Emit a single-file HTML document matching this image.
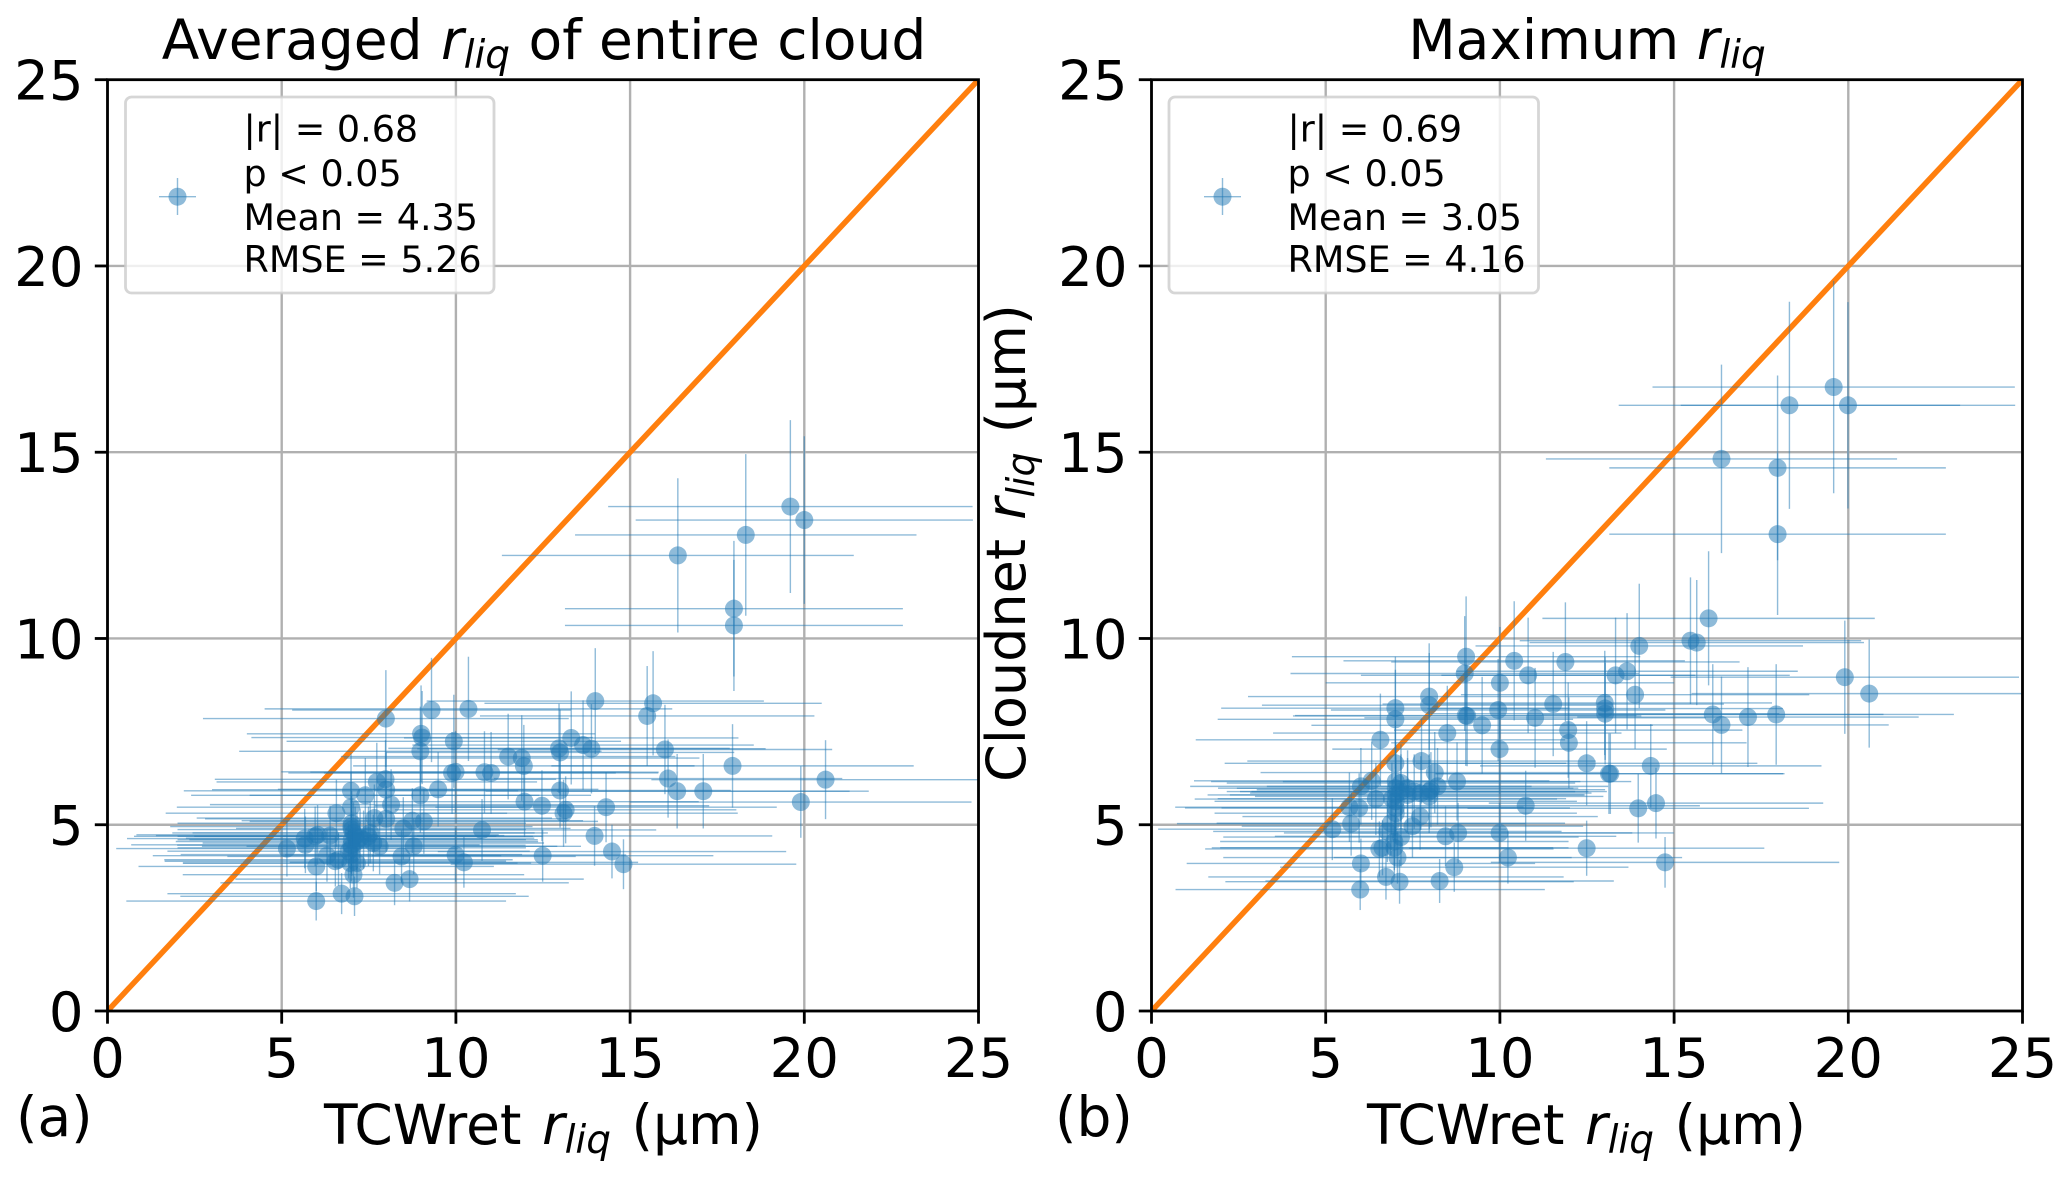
<!DOCTYPE html>
<html>
<head>
<meta charset="utf-8">
<title>TCWret vs Cloudnet r_liq</title>
<style>
html,body{margin:0;padding:0;background:#fff;}
svg{display:block;}
text{font-family:"DejaVu Sans",sans-serif;fill:#000;white-space:pre;}
.tick{font-size:54.5px;}
.big{font-size:55px;}
.leg{font-size:36.5px;}
.it{font-style:italic;}
</style>
</head>
<body>
<svg id="chart" xmlns="http://www.w3.org/2000/svg" width="2067" height="1179" viewBox="0 0 2067 1179">
  <rect x="0" y="0" width="2067" height="1179" fill="#fff"/>
  <defs>
    <clipPath id="clip-a"><rect x="107.5" y="79.7" width="871" height="931.3"/></clipPath>
    <clipPath id="clip-b"><rect x="1151.5" y="79.7" width="871" height="931.3"/></clipPath>
  </defs>
  <g id="panel-a"></g>
  <g id="panel-b"></g>

  <text class="big" x="544" y="59" text-anchor="middle">Averaged <tspan class="it" dx="1">r</tspan><tspan class="it" font-size="39" dy="9">liq</tspan><tspan dy="-9" dx="1"> of entire cloud</tspan></text>
  <text class="big" x="1587" y="59" text-anchor="middle">Maximum <tspan class="it">r</tspan><tspan class="it" font-size="39" dy="9">liq</tspan></text>
  <text class="big" x="543.5" y="1144" text-anchor="middle">TCWret <tspan class="it" dx="3">r</tspan><tspan class="it" font-size="39" dy="9">liq</tspan><tspan dy="-9" dx="3"> (µm)</tspan></text>
  <text class="big" x="1586.5" y="1144" text-anchor="middle">TCWret <tspan class="it" dx="3">r</tspan><tspan class="it" font-size="39" dy="9">liq</tspan><tspan dy="-9" dx="3"> (µm)</tspan></text>
  <text font-size="54" transform="translate(1025 543) rotate(-90)" text-anchor="middle">Cloudnet <tspan class="it" dx="2">r</tspan><tspan class="it" font-size="38" dy="9">liq</tspan><tspan dy="-9" dx="2"> (µm)</tspan></text>
  <text class="big" x="16" y="1136">(a)</text>
  <text class="big" x="1055" y="1136">(b)</text>

  <g>
    <rect x="125.5" y="97" width="368.5" height="196" rx="6" ry="6" fill="#fff" fill-opacity="0.8" stroke="#ccc" stroke-opacity="0.8" stroke-width="2.8"/>
    <line x1="159" x2="196" y1="196.7" y2="196.7" stroke="#1f77b4" stroke-opacity="0.5" stroke-width="1.4"/>
    <line x1="177.5" x2="177.5" y1="178" y2="215" stroke="#1f77b4" stroke-opacity="0.5" stroke-width="1.4"/>
    <circle cx="177.5" cy="196.7" r="9" fill="#1f77b4" fill-opacity="0.5"/>
    <text class="leg" x="243.5" y="141.5">|r| = 0.68</text>
    <text class="leg" x="243.5" y="186">p &lt; 0.05</text>
    <text class="leg" x="243.5" y="230">Mean = 4.35</text>
    <text class="leg" x="243.5" y="272">RMSE = 5.26</text>
  </g>
  <g>
    <rect x="1169" y="97" width="369.5" height="196" rx="6" ry="6" fill="#fff" fill-opacity="0.8" stroke="#ccc" stroke-opacity="0.8" stroke-width="2.8"/>
    <line x1="1204" x2="1241" y1="196.7" y2="196.7" stroke="#1f77b4" stroke-opacity="0.5" stroke-width="1.4"/>
    <line x1="1222.5" x2="1222.5" y1="178" y2="215" stroke="#1f77b4" stroke-opacity="0.5" stroke-width="1.4"/>
    <circle cx="1222.5" cy="196.7" r="9" fill="#1f77b4" fill-opacity="0.5"/>
    <text class="leg" x="1287.5" y="141.5">|r| = 0.69</text>
    <text class="leg" x="1287.5" y="186">p &lt; 0.05</text>
    <text class="leg" x="1287.5" y="230">Mean = 3.05</text>
    <text class="leg" x="1287.5" y="272">RMSE = 4.16</text>
  </g>
</svg>
<script>
var tickValues = [0, 5, 10, 15, 20, 25];
var tickLabels = ['0', '5', '10', '15', '20', '25'];
var refLine = [0, 25];

var aX = [7.99,9.30,10.36,9.0,9.03,9.94,8.98,11.5,11.89,11.95,
12.96,12.99,13.31,9.89,9.99,10.82,11.01,7.73,7.98,8.0,
6.99,7.4,8.98,9.49,8.14,12.99,11.97,12.47,13.15,13.09,
6.99,6.57,7.66,8.0,8.75,9.08,8.49,10.75,9.99,10.23,
8.79,8.44,7.81,12.49,5.15,5.68,5.66,5.96,6.03,6.39,
6.3,6.54,6.63,5.99,7.06,7.16,6.97,8.24,8.67,6.72,
7.09,5.99,7.01,7.06,7.11,7.01,7.16,7.25,7.01,6.92,
7.35,7.49,7.54,7.63,7.01,7.0,7.0,7.0,19.6,20.0,
18.32,16.37,17.98,17.98,14.0,15.66,15.49,13.65,13.89,16.0,
17.94,16.09,16.35,17.1,20.61,19.9,14.31,13.98,14.48,14.81];
var aY = [7.85,8.08,8.11,7.44,7.34,7.24,6.97,6.83,6.79,6.58,
7.05,6.94,7.33,6.39,6.42,6.41,6.39,6.15,6.22,5.94,
5.91,5.79,5.79,5.95,5.54,5.92,5.62,5.51,5.4,5.31,
5.47,5.31,5.18,5.16,5.11,5.09,4.9,4.86,4.19,3.99,
4.42,4.15,4.42,4.17,4.36,4.46,4.63,4.69,4.73,4.71,
4.17,4.02,4.06,3.88,3.66,3.97,3.97,3.44,3.54,3.15,
3.08,2.95,4.87,4.78,4.69,4.6,4.55,4.64,4.38,4.29,
4.6,4.69,4.78,4.51,5.04,4.95,4.45,4.2,13.54,13.18,
12.78,12.23,10.8,10.35,8.32,8.26,7.92,7.14,7.04,7.02,
6.58,6.24,5.9,5.9,6.21,5.61,5.47,4.7,4.28,3.94];
var aXErr = [5.25,4.0,5.85,5.0,4.9,4.8,5.2,4.8,5.1,4.9,
4.9,5.0,4.8,4.7,5.0,5.0,4.8,4.6,4.9,5.0,
4.8,5.0,4.9,4.6,5.2,4.9,5.0,4.8,4.9,5.0,
5.0,4.9,5.1,5.2,4.9,5.0,4.8,5.0,4.9,5.0,
4.8,5.0,5.1,4.9,4.9,5.0,5.1,5.2,5.2,5.0,
5.0,4.9,5.0,5.1,4.9,5.0,4.8,5.0,5.0,5.0,
5.0,5.45,5.0,5.2,5.1,5.0,5.2,5.0,5.0,5.2,
5.0,5.0,5.1,4.9,5.0,5.2,5.0,4.9,5.23,4.84,
4.9,5.05,4.85,4.85,4.84,4.84,4.8,4.9,5.0,4.8,
5.2,5.0,5.5,4.2,5.0,4.9,4.9,5.1,5.0,4.96];
var aYErr = [1.3,1.4,1.4,1.3,1.25,1.25,1.2,1.15,1.15,1.1,
1.2,1.15,1.25,1.1,1.1,1.1,1.1,1.05,1.05,1.0,
1.0,1.0,1.0,1.0,0.95,1.0,0.95,0.95,0.9,0.9,
0.95,0.9,0.9,0.88,0.87,0.87,0.84,0.83,0.72,0.68,
0.75,0.7,0.75,0.7,0.75,0.76,0.8,0.8,0.8,0.8,
0.7,0.68,0.7,0.66,0.62,0.68,0.68,0.6,0.6,0.55,
0.53,0.52,0.83,0.82,0.8,0.78,0.78,0.8,0.75,0.73,
0.78,0.8,0.82,0.76,0.86,0.85,0.76,0.72,2.32,2.25,
2.17,2.07,1.82,1.76,1.42,1.4,1.34,1.2,1.2,1.2,
1.12,1.05,1.0,1.0,1.06,0.96,0.94,0.8,0.72,0.67];

var bX = [19.58,19.99,18.31,16.36,17.97,17.97,15.99,14.0,15.47,15.65,
11.88,10.41,10.81,13.32,13.65,13.88,10.0,11.53,13.01,13.02,
13.02,9.95,11.01,11.96,11.98,12.49,9.99,19.9,20.6,16.11,
16.36,17.12,17.93,14.33,13.13,13.17,14.48,13.97,14.74,10.74,
9.03,8.99,7.97,7.97,7.0,7.0,9.02,9.06,9.49,8.49,
6.57,7.75,7.0,8.13,8.77,6.32,6.01,6.44,5.96,5.68,
5.73,5.19,7.71,7.49,6.87,6.77,7.16,6.97,6.97,8.44,
8.8,9.99,6.54,6.63,7.06,6.01,10.23,8.69,12.49,6.73,
7.12,8.27,5.99,7.01,7.01,7.01,7.01,7.01,7.01,7.16,
7.16,7.35,7.35,7.54,7.73,7.97,8.02,8.21,7.97,6.9];
var bY = [16.75,16.26,16.26,14.82,14.58,12.8,10.54,9.8,9.94,9.89,
9.37,9.4,9.01,9.01,9.12,8.49,8.81,8.24,8.27,8.12,
7.98,8.08,7.87,7.54,7.2,6.65,7.03,8.96,8.52,7.96,
7.68,7.89,7.96,6.58,6.37,6.37,5.58,5.44,3.99,5.51,
9.51,9.06,8.44,8.21,8.13,7.83,7.93,7.92,7.67,7.46,
7.28,6.71,6.65,6.4,6.16,6.18,6.03,5.69,5.45,5.47,
5.03,4.88,5.22,4.96,5.04,4.82,4.67,4.55,4.38,4.69,
4.78,4.78,4.35,4.38,4.12,3.96,4.12,3.86,4.37,3.6,
3.47,3.49,3.26,6.16,5.98,5.8,5.63,5.45,5.31,6.12,
5.89,5.98,5.8,5.89,5.85,5.76,5.94,6.03,5.89,5.7];
var bXErr = [5.2,4.8,4.9,5.04,4.83,4.83,4.77,4.7,4.9,4.8,
5.0,4.9,4.8,5.0,4.9,5.0,5.0,4.9,4.8,5.1,
5.0,4.8,4.9,5.0,5.1,4.9,4.8,5.0,5.1,4.9,
4.8,4.9,5.1,4.9,5.0,5.0,4.8,4.9,5.0,5.0,
5.0,5.0,5.2,4.8,5.0,5.1,4.9,5.0,4.9,5.0,
5.3,5.0,4.9,5.0,5.0,5.1,4.9,5.2,5.0,5.0,
5.0,5.0,5.1,4.9,5.0,5.0,5.1,5.0,5.0,4.9,
5.0,5.0,5.0,4.9,5.0,5.0,5.0,5.0,5.1,5.1,
5.0,5.0,5.3,5.3,5.1,5.4,5.2,5.0,5.2,5.0,
5.0,4.9,5.1,5.0,4.9,5.0,5.0,4.9,5.1,5.0];
var bYErr = [2.85,2.77,2.78,2.53,2.48,2.17,1.8,1.67,1.7,1.68,
1.6,1.6,1.55,1.55,1.56,1.45,1.5,1.4,1.4,1.38,
1.36,1.37,1.34,1.28,1.22,1.13,1.2,1.52,1.45,1.35,
1.3,1.34,1.35,1.12,1.08,1.08,0.95,0.92,0.68,0.94,
1.62,1.54,1.43,1.4,1.38,1.33,1.35,1.35,1.3,1.27,
1.24,1.14,1.13,1.09,1.05,1.05,1.03,0.97,0.93,0.93,
0.86,0.83,0.89,0.84,0.86,0.82,0.79,0.77,0.74,0.8,
0.81,0.81,0.74,0.74,0.7,0.67,0.7,0.66,0.74,0.61,
0.59,0.59,0.55,1.05,1.02,0.99,0.96,0.93,0.9,1.04,
1.0,1.02,0.99,1.0,0.99,0.98,1.01,1.03,1.0,0.97];

var NS = 'http://www.w3.org/2000/svg';
var BLUE = '#1f77b4';

function make(parent, tag, attrs) {
  var el = document.createElementNS(NS, tag);
  for (var k in attrs) { el.setAttribute(k, attrs[k]); }
  parent.appendChild(el);
  return el;
}

function drawPanel(id, left, clipId, xs, ys, xErr, yErr) {
  var root = document.getElementById(id);
  var right = left + 871, top = 79.7, bottom = 1011;
  var sx = function (v) { return left + (v / 25) * (right - left); };
  var sy = function (v) { return bottom - (v / 25) * (bottom - top); };
  var i, el;

  for (i = 0; i < tickValues.length; i++) {
    el = make(root, 'line', {x1: sx(tickValues[i]), x2: sx(tickValues[i]), y1: top, y2: bottom, stroke: '#b0b0b0', 'stroke-width': 2.4});
    
    
    el = make(root, 'line', {x1: left, x2: right, y1: sy(tickValues[i]), y2: sy(tickValues[i]), stroke: '#b0b0b0', 'stroke-width': 2.4});
    
    
  }

  var clipped = make(root, 'g', {'clip-path': 'url(#' + clipId + ')'});
  
  

  el = make(clipped, 'line', {x1: sx(refLine[0]), y1: sy(refLine[0]), x2: sx(refLine[1]), y2: sy(refLine[1]), stroke: '#ff7f0e', 'stroke-width': 5.5});
  
  

  for (i = 0; i < xs.length; i++) {
    el = make(clipped, 'line', {x1: sx(xs[i] - xErr[i]), x2: sx(xs[i] + xErr[i]), y1: sy(ys[i]), y2: sy(ys[i]), stroke: BLUE, 'stroke-opacity': 0.5, 'stroke-width': 1.4});
    
    
    el = make(clipped, 'line', {x1: sx(xs[i]), x2: sx(xs[i]), y1: sy(ys[i] - yErr[i]), y2: sy(ys[i] + yErr[i]), stroke: BLUE, 'stroke-opacity': 0.5, 'stroke-width': 1.4});
    
    
    el = make(clipped, 'circle', {cx: sx(xs[i]), cy: sy(ys[i]), r: 9, fill: BLUE, 'fill-opacity': 0.5});
    
    
  }

  el = make(root, 'rect', {x: left, y: top, width: right - left, height: bottom - top, fill: 'none', stroke: '#000', 'stroke-width': 2.8});
  
  

  for (i = 0; i < tickValues.length; i++) {
    el = make(root, 'line', {x1: sx(tickValues[i]), x2: sx(tickValues[i]), y1: bottom, y2: bottom + 12.7, stroke: '#000', 'stroke-width': 2.8});
    
    
    el = make(root, 'line', {x1: left - 12.7, x2: left, y1: sy(tickValues[i]), y2: sy(tickValues[i]), stroke: '#000', 'stroke-width': 2.8});
    
    
    el = make(root, 'text', {x: sx(tickValues[i]), y: 1077, 'text-anchor': 'middle', 'class': 'tick'});
    
    
    el.textContent = tickLabels[i];
    el = make(root, 'text', {x: left - 24, y: sy(tickValues[i]) + 20, 'text-anchor': 'end', 'class': 'tick'});
    
    
    el.textContent = tickLabels[i];
  }
}

drawPanel('panel-a', 107.5, 'clip-a', aX, aY, aXErr, aYErr);
drawPanel('panel-b', 1151.5, 'clip-b', bX, bY, bXErr, bYErr);
</script>
</body>
</html>
